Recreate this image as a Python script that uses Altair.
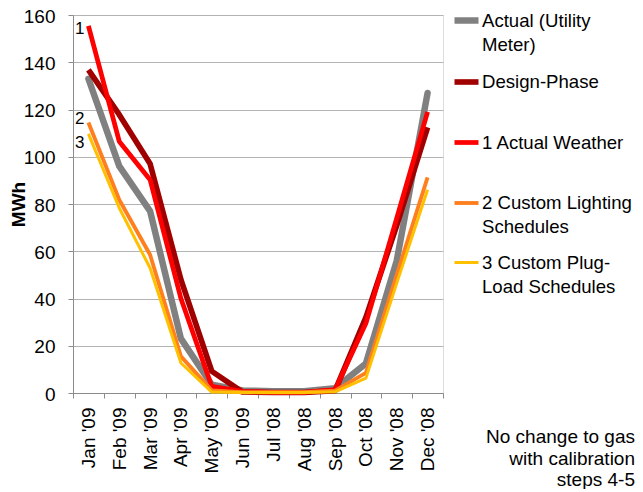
import altair as alt
import pandas as pd

months = ["Jan '09", "Feb '09", "Mar '09", "Apr '09", "May '09", "Jun '09",
          "Jul '08", "Aug '08", "Sep '08", "Oct '08", "Nov '08", "Dec '08"]
series_names = ["Actual (Utility|Meter)", "Design-Phase|", "1 Actual Weather|",
                "2 Custom Lighting|Schedules", "3 Custom Plug-|Load Schedules"]
actual = [133, 96, 77, 23, 3.5, 1.1, 0.7, 0.7, 2, 12.5, 56, 127]
design = [136.8, 117.8, 97, 48, 9.2, 0.4, 0.2, 0.2, 1, 32, 71, 112.4]
weather = [155.4, 106.5, 90.3, 40, 2.8, 0.7, 0.3, 0.3, 1.4, 29.5, 74, 119]
lighting = [114.5, 81.8, 58.5, 15.5, 1.1, 0.3, 0.3, 0.3, 1, 8.5, 50, 91.3]
plug = [109.7, 78.3, 52.9, 12.7, 0.4, 0.2, 0.2, 0.2, 0.5, 6.3, 46.5, 86]
step_labels = ["1", "2", "3"]
note_lines = ["No change  to gas", "with calibration", "steps 4-5"]

colors = ["#808080", "#A00000", "#FF0000", "#FF7F1F", "#FFC000"]
widths = [6.5, 3, 2, 2, 2]
FONT = "Liberation Sans"
FS = 19

all_values = [actual, design, weather, lighting, plug]
rows = []
for name, vals in zip(series_names, all_values):
    for m, v in zip(months, vals):
        rows.append({"month": m, "series": name, "value": v})
df = pd.DataFrame(rows)

color_scale = alt.Scale(domain=series_names, range=colors)
sw_scale = alt.Scale(domain=series_names, range=widths)
legend = alt.Legend(
    title=None, orient="none", legendX=378, legendY=-10,
    labelExpr="split(datum.label, '|')",
    symbolType="M-1,0L1,0", symbolSize=576,
    labelFontSize=18.6, labelFont=FONT, labelColor="black", labelLimit=300,
    labelOffset=0, rowPadding=12, padding=0,
)

x_enc = alt.X(
    "month:N", sort=months,
    scale=alt.Scale(type="band", paddingInner=0, paddingOuter=0),
    axis=alt.Axis(title=None, labelAngle=-90, tickBand="extent", grid=False,
                  labelFontSize=FS, labelFont=FONT, labelColor="black",
                  domainColor="#8c8c8c", tickColor="#8c8c8c", tickSize=5,
                  labelPadding=9),
)
y_enc = alt.Y(
    "value:Q",
    scale=alt.Scale(domain=[0, 160], nice=False),
    axis=alt.Axis(title="MWh", values=list(range(0, 161, 20)),
                  labelFontSize=FS, labelFont=FONT, labelColor="black",
                  labelOffset=1,
                  titleFontSize=FS, titleFont=FONT, titleFontWeight="bold",
                  titleColor="black", titleX=-55, titleBaseline="middle",
                  domainColor="#8c8c8c", tickColor="#8c8c8c", tickSize=5,
                  gridColor="#b4b4b4", labelPadding=13),
)

base = alt.Chart(df)
enc = dict(
    x=x_enc, y=y_enc,
    color=alt.Color("series:N", scale=color_scale, legend=legend),
    strokeWidth=alt.StrokeWidth("series:N", scale=sw_scale, legend=legend),
)
gray_layer = base.transform_filter(alt.datum.series == series_names[0]).mark_line(
    strokeJoin="round", strokeCap="round").encode(**enc)
other_layer = base.transform_filter(alt.datum.series != series_names[0]).mark_line(
    strokeJoin="round").encode(**enc)

lab_df = pd.DataFrame({
    "month": [months[0]] * 3,
    "value": [weather[0], lighting[0], plug[0]],
    "lab": step_labels,
})
lab_base = alt.Chart(lab_df)
dys = [3, -3, 9]
label_layers = []
for lab, dy in zip(step_labels, dys):
    label_layers.append(
        lab_base.transform_filter(alt.datum.lab == lab).mark_text(
            align="right", baseline="middle", dx=-4, dy=dy,
            fontSize=17, font=FONT, color="black"
        ).encode(x=alt.X("month:N", sort=months), y="value:Q", text="lab:N")
    )

note = alt.Chart(pd.DataFrame({"k": [0]})).mark_text(
    align="right", baseline="middle", fontSize=19, font=FONT, color="black",
    lineHeight=21.5,
).encode(x=alt.value(562), y=alt.value(422), text=alt.value(note_lines))

chart = alt.layer(gray_layer, other_layer, *label_layers, note).properties(
    width=370, height=378,
    autosize=alt.AutoSizeParams(type="none"),
    padding={"left": 65, "top": 7, "right": 192, "bottom": 96},
    background="white",
).configure_view(stroke=None).configure(
    style={"guide-label": {"lineHeight": 24}}
)

chart.save("out.html", embed_options={"renderer": "svg", "actions": False})
